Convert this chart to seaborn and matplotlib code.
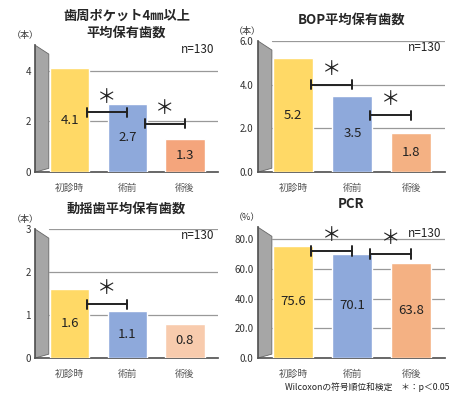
import matplotlib
matplotlib.use("Agg")
import matplotlib.pyplot as plt
import seaborn as sns
import pandas as pd
from matplotlib.patches import Polygon

sns.set_theme(style="white")
plt.rcParams['font.family'] = ['Noto Sans CJK JP', 'DejaVu Sans']

# データ
stages = ['初診時', '術前', '術後']
pocket_vals = [4.1, 2.7, 1.3]
bop_vals = [5.2, 3.5, 1.8]
mobility_vals = [1.6, 1.1, 0.8]
pcr_vals = [75.6, 70.1, 63.8]

panels = [
    dict(vals=pocket_vals, title='歯周ポケット4㎜以上\n平均保有歯数', unit='（本）',
         ylim=5.0, ticks=[0, 2, 4], fmt='{:.0f}', orange='#F4A57C',
         brackets=[(0, 1, 2.35), (1, 2, 1.9)], pad=6, ny=1.02,
         rect=[0.078, 0.562, 0.406, 0.323]),
    dict(vals=bop_vals, title='BOP平均保有歯数', unit='（本）',
         ylim=6.0, ticks=[0, 2, 4, 6], fmt='{:.1f}', orange='#F4B183',
         brackets=[(0, 1, 4.0), (1, 2, 2.6)], pad=12, ny=1.0,
         rect=[0.573, 0.562, 0.416, 0.334]),
    dict(vals=mobility_vals, title='動揺歯平均保有歯数', unit='（本）',
         ylim=3.0, ticks=[0, 1, 2, 3], fmt='{:.0f}', orange='#F8CBAD',
         brackets=[(0, 1, 1.25)], pad=12, ny=1.0,
         rect=[0.078, 0.089, 0.406, 0.328]),
    dict(vals=pcr_vals, title='PCR', unit='（%）',
         ylim=88.0, ticks=[0, 20, 40, 60, 80], fmt='{:.1f}', orange='#F4B183',
         brackets=[(0, 1, 72), (1, 2, 70)], pad=14, ny=1.0,
         rect=[0.573, 0.089, 0.416, 0.333]),
]

fig = plt.figure(figsize=(4.5, 3.93), dpi=100)

for p in panels:
    ax = fig.add_axes(p['rect'])
    df = pd.DataFrame({'stage': stages, 'value': p['vals']})
    pal = {'初診時': '#FFD966', '術前': '#8EA9DB', '術後': p['orange']}
    sns.barplot(data=df, x='stage', y='value', hue='stage', palette=pal,
                legend=False, width=0.68, saturation=1, ax=ax, zorder=3)
    ax.set_xlim(-0.6, 2.57)
    ax.set_ylim(0, p['ylim'])
    ax.set_yticks(p['ticks'])
    ax.set_yticklabels([p['fmt'].format(t) for t in p['ticks']], fontsize=7, color='#333333')
    ax.tick_params(axis='x', labelsize=7, labelcolor='#555555', length=0, pad=8)
    ax.tick_params(axis='y', length=0, pad=3)
    ax.set_xlabel('')
    ax.set_ylabel('')

    # 奥の壁と目盛線
    ax.add_patch(Polygon([(0, 0), (0, 1), (0.075, 0.93), (0.075, 0.03)],
                         closed=True, transform=ax.transAxes,
                         facecolor='#A6A6A6', edgecolor='#666666', lw=0.6, zorder=1))
    for t in p['ticks'][1:]:
        ax.axhline(t, xmin=0.075, xmax=1, color='#999999', lw=0.9, zorder=1)
    for s in ['top', 'right']:
        ax.spines[s].set_visible(False)
    ax.spines['left'].set_color('#555555')
    ax.spines['bottom'].set_color('#555555')

    # 数値ラベル
    for i, v in enumerate(p['vals']):
        ax.text(i, v * 0.5, f'{v:.1f}', ha='center', va='center',
                fontsize=9.5, color='#222222', zorder=5)

    # 有意差
    d = p['ylim'] * 0.035
    for a, b, y in p['brackets']:
        x0, x1 = a + 0.3, b
        ax.plot([x0, x1], [y, y], color='#222222', lw=1.4, zorder=6)
        ax.plot([x0, x0], [y - d, y + d], color='#222222', lw=1.4, zorder=6)
        ax.plot([x1, x1], [y - d, y + d], color='#222222', lw=1.4, zorder=6)
        ax.text((x0 + x1) / 2, y + d * 1.1, '＊', ha='center', va='bottom',
                fontsize=14, color='#222222', zorder=6)

    ax.set_title(p['title'], fontsize=9.5, fontweight='bold', pad=p['pad'], linespacing=1.3)
    ax.text(0.98, p['ny'], 'n=130', transform=ax.transAxes, ha='right', va='top',
            fontsize=8.5, color='#222222')
    ax.text(-0.13, 1.04, p['unit'], transform=ax.transAxes, ha='left', va='bottom',
            fontsize=6.5, color='#333333')

fig.text(0.998, 0.003, 'Wilcoxonの符号順位和検定　＊：p＜0.05', ha='right', va='bottom',
         fontsize=6.3, color='#222222')

fig.savefig('out.png', dpi=100)
